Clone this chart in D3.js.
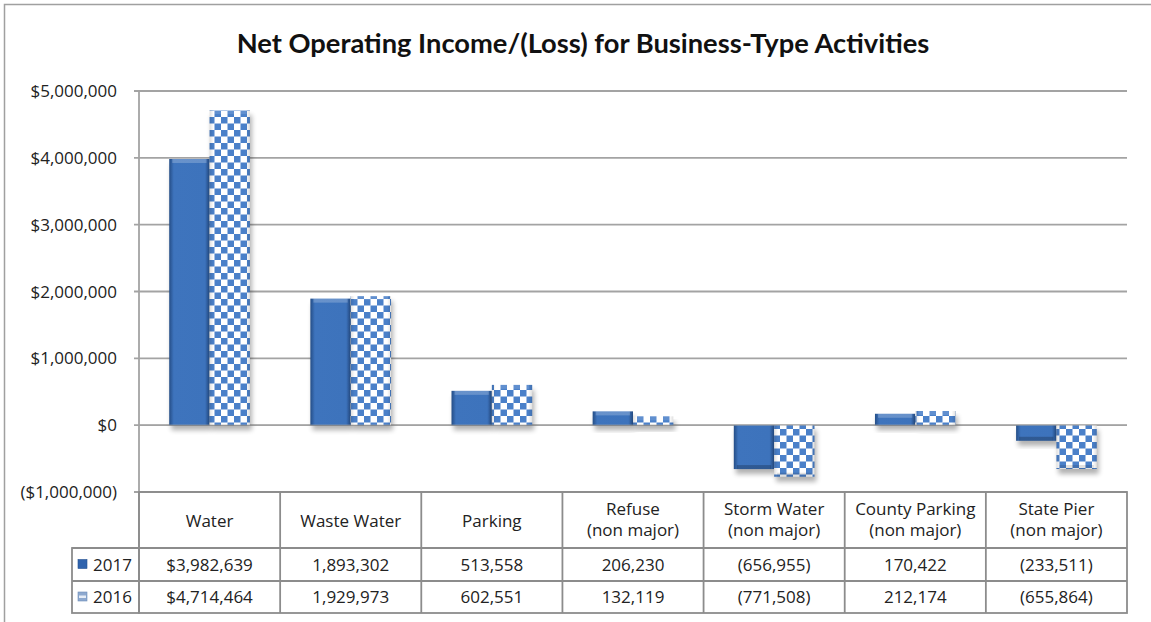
<!DOCTYPE html>
<meta charset="utf-8">
<script src="https://d3js.org/d3.v7.min.js"></script>
<body style="margin:0;background:#fff">
<svg width="1151" height="622"></svg>
<script>
var categories = ["Water", "Waste Water", "Parking", "Refuse|(non major)", "Storm Water|(non major)", "County Parking|(non major)", "State Pier|(non major)"];
var years = ["2017", "2016"];
var values2017 = [3982639, 1893302, 513558, 206230, -656955, 170422, -233511];
var values2016 = [4714464, 1929973, 602551, 132119, -771508, 212174, -655864];
var yTicks = [-1000000, 0, 1000000, 2000000, 3000000, 4000000, 5000000];

var svg = d3.select("svg");
var font = "Lato, 'Open Sans', sans-serif";
var bodyFont = "'Open Sans', Lato, sans-serif";
var fs = 17;
var plotLeft = 139, plotRight = 1127, plotTop = 91, plotBottom = 492;
var rowY = [492, 548, 581, 613];

var defs = svg.append("defs");
var g17 = defs.append("linearGradient").attr("id", "g17").attr("x1", 0).attr("x2", 1).attr("y1", 0).attr("y2", 0);
g17.append("stop").attr("offset", 0).attr("stop-color", "#2c5c9f");
g17.append("stop").attr("offset", 0.12).attr("stop-color", "#3e74bd");
g17.append("stop").attr("offset", 0.88).attr("stop-color", "#3d73bc");
g17.append("stop").attr("offset", 1).attr("stop-color", "#2a5796");

var pat = defs.append("pattern").attr("id", "chk").attr("patternUnits", "userSpaceOnUse")
  .attr("width", 13).attr("height", 13);
pat.append("rect").attr("width", 13).attr("height", 13).attr("fill", "#fff");
pat.append("rect").attr("width", 6.5).attr("height", 6.5).attr("fill", "#4a80c9");
pat.append("rect").attr("x", 6.5).attr("y", 6.5).attr("width", 6.5).attr("height", 6.5).attr("fill", "#4a80c9");

var edge = defs.append("linearGradient").attr("id", "edge").attr("x1", 0).attr("x2", 1);
edge.append("stop").attr("offset", 0).attr("stop-color", "#000").attr("stop-opacity", 0.25);
edge.append("stop").attr("offset", 0.1).attr("stop-color", "#000").attr("stop-opacity", 0);
edge.append("stop").attr("offset", 0.9).attr("stop-color", "#000").attr("stop-opacity", 0);
edge.append("stop").attr("offset", 1).attr("stop-color", "#000").attr("stop-opacity", 0.25);

var shadow = defs.append("filter").attr("id", "sh").attr("x", "-20%").attr("y", "-20%").attr("width", "140%").attr("height", "140%");
shadow.append("feGaussianBlur").attr("stdDeviation", 2.5);

// outer frame
svg.append("rect").attr("x", 4.5).attr("y", 4.5).attr("width", 1160).attr("height", 640)
  .attr("fill", "none").attr("stroke", "#a0a0a0").attr("stroke-width", 1.5);

svg.append("text").attr("x", 583).attr("y", 53).attr("text-anchor", "middle")
  .attr("font-family", font).attr("font-weight", "bold").attr("font-size", 27.3).attr("fill", "#111")
  .text("Net Operating Income/(Loss) for Business-Type Activities");

var y = d3.scaleLinear().domain([-1000000, 5000000]).range([plotBottom, plotTop]);
var x = d3.scaleBand().domain(categories).range([plotLeft, plotRight]);
var x1 = d3.scaleBand().domain(years).range([0, x.bandwidth()]).paddingOuter(0.75);

var fmtAxis = function (v) {
  var s = "$" + d3.format(",")(Math.abs(v));
  return v < 0 ? "(" + s + ")" : s;
};

// gridlines
svg.append("g").selectAll("line").data(yTicks).join("line")
  .attr("x1", plotLeft - 5).attr("x2", plotRight).attr("y1", d => y(d)).attr("y2", d => y(d))
  .attr("stroke", "#a3a3a3").attr("stroke-width", 1.8);
svg.append("line").attr("x1", plotLeft).attr("x2", plotLeft).attr("y1", plotTop).attr("y2", rowY[3])
  .attr("stroke", "#a3a3a3").attr("stroke-width", 1.8);

svg.append("g").selectAll("text").data(yTicks).join("text")
  .attr("x", 117).attr("y", d => y(d) + 6).attr("text-anchor", "end")
  .attr("font-family", bodyFont).attr("font-size", fs).attr("fill", "#222")
  .text(fmtAxis);

// bars
var series = [values2017, values2016];
var bars = [];
categories.forEach(function (c, i) {
  years.forEach(function (yr, k) {
    bars.push({ cat: c, year: yr, k: k, v: series[k][i] });
  });
});

var bg = svg.append("g");
bars.forEach(function (d) {
  var bx = x(d.cat) + x1(d.year), bw = x1.bandwidth();
  var y0 = Math.min(y(0), y(d.v)), h = Math.abs(y(d.v) - y(0));
  var grp = bg.append("g");
  grp.append("rect").attr("x", bx + 2).attr("y", y0 + 5).attr("width", bw).attr("height", h)
    .attr("fill", "#000").attr("opacity", 0.3).attr("filter", "url(#sh)");
  grp.append("rect").attr("x", bx).attr("y", y0).attr("width", bw).attr("height", h)
    .attr("fill", d.k === 0 ? "url(#g17)" : "url(#chk)");
  grp.append("rect").attr("x", bx).attr("y", y0).attr("width", bw).attr("height", h)
    .attr("fill", "url(#edge)").attr("opacity", d.k === 0 ? 0.6 : 0.5);
  var hl = d.v >= 0 ? y0 : y0 + h - 4;
  grp.append("rect").attr("x", bx + 3).attr("y", hl).attr("width", bw - 6).attr("height", Math.min(4, h))
    .attr("fill", d.v >= 0 ? "#fff" : "#000").attr("opacity", d.k === 0 ? 0.22 : 0.12);
});
// zero line over bars
svg.append("line").attr("x1", plotLeft).attr("x2", plotRight).attr("y1", y(0)).attr("y2", y(0))
  .attr("stroke", "#a3a3a3").attr("stroke-width", 1.2).attr("opacity", 0.6);

// data table
var tg = svg.append("g").attr("stroke", "#8c8c8c").attr("stroke-width", 1.8).attr("fill", "none");
tg.append("rect").attr("x", plotLeft).attr("y", rowY[0]).attr("width", plotRight - plotLeft).attr("height", rowY[3] - rowY[0]);
tg.append("rect").attr("x", 72).attr("y", rowY[1]).attr("width", plotLeft - 72).attr("height", rowY[3] - rowY[1]);
tg.append("line").attr("x1", 72).attr("x2", plotRight).attr("y1", rowY[1]).attr("y2", rowY[1]);
tg.append("line").attr("x1", 72).attr("x2", plotRight).attr("y1", rowY[2]).attr("y2", rowY[2]);
categories.slice(1).forEach(function (c) {
  tg.append("line").attr("x1", x(c)).attr("x2", x(c)).attr("y1", rowY[0]).attr("y2", rowY[3]);
});

var txt = svg.append("g").attr("font-family", bodyFont).attr("font-size", fs).attr("fill", "#222").attr("text-anchor", "middle");
categories.forEach(function (c) {
  var lines = c.split("|");
  var cx = x(c) + x.bandwidth() / 2;
  lines.forEach(function (l, j) {
    var yy = lines.length === 1 ? 527 : 515 + j * 21;
    txt.append("text").attr("x", cx).attr("y", yy).text(l);
  });
});

var fmtVal = function (v, i) {
  var s = (i === 0 ? "$" : "") + d3.format(",")(Math.abs(v));
  return v < 0 ? "(" + s + ")" : s;
};
series.forEach(function (vals, k) {
  var yy = (rowY[k + 1] + rowY[k + 2]) / 2 + 6;
  vals.forEach(function (v, i) {
    txt.append("text").attr("x", x(categories[i]) + x.bandwidth() / 2).attr("y", yy).text(fmtVal(v, i));
  });
  svg.append("rect").attr("x", 78).attr("y", yy - 11).attr("width", 9).attr("height", 9)
    .attr("fill", k === 0 ? "#2f63ad" : "#8ea9cf").attr("stroke", k === 0 ? "#24508f" : "#6d8cb8").attr("stroke-width", 0.6);
  if (k === 1) {
    svg.append("rect").attr("x", 79).attr("y", yy - 7.5).attr("width", 7).attr("height", 2.5).attr("fill", "#e6edf7");
  }
  svg.append("text").attr("x", 93).attr("y", yy).attr("font-family", bodyFont).attr("font-size", fs).attr("fill", "#222")
    .text(years[k]);
});
</script>
</body>
